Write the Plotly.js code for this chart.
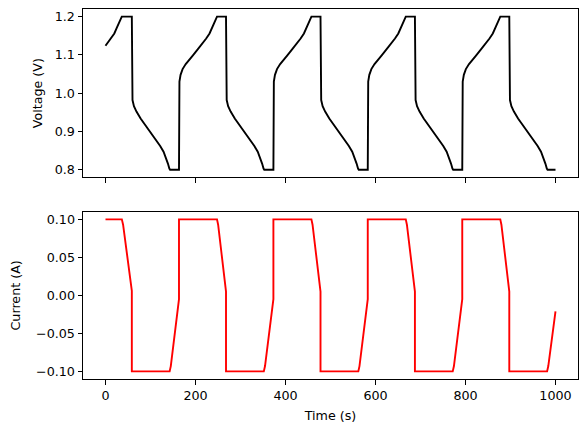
<!DOCTYPE html>
<html>
<head>
<meta charset="utf-8">
<script src="https://cdn.plot.ly/plotly-3.0.1.min.js"></script>
<style>html,body{margin:0;padding:0;background:#fff;}#chart{width:587px;height:432px;}</style>
</head>
<body>
<div id="chart"></div>
<script>
// Voltage trace (time in s, voltage in V)
const voltageTime = [
  0, 4.7, 12.2, 19.6, 25.5, 30.7, 34.4, 36.2,
  58.5, 58.5, 60.0, 63.2, 68.8, 78.0, 88.5, 99.5, 110.5, 121.5, 129.0, 135.0, 138.7, 141.9, 143.5,
  163.3, 163.3, 164.3, 166.8, 171.3, 178.3, 183.3, 194.3, 205.3, 216.3, 223.8, 231.2, 237.1, 242.3, 246.0, 247.8,
  267.8, 267.8, 269.3, 272.5, 278.1, 287.3, 297.8, 308.8, 319.8, 330.8, 338.3, 344.3, 348.0, 351.2, 352.8,
  373.1, 373.1, 374.1, 376.6, 381.1, 388.1, 393.1, 404.1, 415.1, 426.1, 433.6, 441.0, 446.9, 452.1, 455.8, 457.6,
  477.8, 477.8, 479.3, 482.5, 488.1, 497.3, 507.8, 518.8, 529.8, 540.8, 548.3, 554.3, 558.0, 561.2, 562.8,
  582.8, 582.8, 583.8, 586.3, 590.8, 597.8, 602.8, 613.8, 624.8, 635.8, 643.3, 650.7, 656.6, 661.8, 665.5, 667.3,
  687.6, 687.6, 689.1, 692.3, 697.9, 707.1, 717.6, 728.6, 739.6, 750.6, 758.1, 764.1, 767.8, 771.0, 772.6,
  792.8, 792.8, 793.8, 796.3, 800.8, 807.8, 812.8, 823.8, 834.8, 845.8, 853.3, 860.7, 866.6, 871.8, 875.5, 877.3,
  897.3, 897.3, 898.8, 902.0, 907.6, 916.8, 927.3, 938.3, 949.3, 960.3, 967.8, 973.8, 977.5, 980.7, 982.3,
  1000
];
const voltage = [
  1.124, 1.131, 1.143, 1.156, 1.172, 1.188, 1.198, 1.2,
  1.2, 1.004, 0.982, 0.966, 0.952, 0.934, 0.917, 0.899, 0.880, 0.862, 0.847, 0.830, 0.816, 0.803, 0.8,
  0.8, 1.008, 1.030, 1.048, 1.063, 1.076, 1.084, 1.099, 1.115, 1.131, 1.143, 1.156, 1.172, 1.188, 1.198, 1.2,
  1.2, 1.004, 0.982, 0.966, 0.952, 0.934, 0.917, 0.899, 0.880, 0.862, 0.847, 0.830, 0.816, 0.803, 0.8,
  0.8, 1.008, 1.030, 1.048, 1.063, 1.076, 1.084, 1.099, 1.115, 1.131, 1.143, 1.156, 1.172, 1.188, 1.198, 1.2,
  1.2, 1.004, 0.982, 0.966, 0.952, 0.934, 0.917, 0.899, 0.880, 0.862, 0.847, 0.830, 0.816, 0.803, 0.8,
  0.8, 1.008, 1.030, 1.048, 1.063, 1.076, 1.084, 1.099, 1.115, 1.131, 1.143, 1.156, 1.172, 1.188, 1.198, 1.2,
  1.2, 1.004, 0.982, 0.966, 0.952, 0.934, 0.917, 0.899, 0.880, 0.862, 0.847, 0.830, 0.816, 0.803, 0.8,
  0.8, 1.008, 1.030, 1.048, 1.063, 1.076, 1.084, 1.099, 1.115, 1.131, 1.143, 1.156, 1.172, 1.188, 1.198, 1.2,
  1.2, 1.004, 0.982, 0.966, 0.952, 0.934, 0.917, 0.899, 0.880, 0.862, 0.847, 0.830, 0.816, 0.803, 0.8,
  0.8
];

// Current trace (time in s, current in A)
const currentTime = [
  0, 36.3, 39.1, 41.9, 44.6, 47.4, 50.2, 53.0, 55.7, 58.5,
  58.5, 142.5, 145.1, 147.7, 150.3, 152.9, 155.5, 158.1, 160.7, 163.3,
  163.3, 247.8, 250.3, 252.8, 255.3, 257.8, 260.3, 262.8, 265.3, 267.8,
  267.8, 351.8, 354.5, 357.1, 359.8, 362.5, 365.1, 367.8, 370.4, 373.1,
  373.1, 457.6, 460.1, 462.7, 465.2, 467.7, 470.2, 472.8, 475.3, 477.8,
  477.8, 561.8, 564.4, 567.1, 569.7, 572.3, 574.9, 577.6, 580.2, 582.8,
  582.8, 667.3, 669.8, 672.4, 674.9, 677.5, 680.0, 682.5, 685.1, 687.6,
  687.6, 771.6, 774.3, 776.9, 779.6, 782.2, 784.9, 787.5, 790.2, 792.8,
  792.8, 877.3, 879.8, 882.3, 884.8, 887.3, 889.8, 892.3, 894.8, 897.3,
  897.3, 981.3, 984.0, 986.6, 989.2, 991.9, 994.5, 997.2, 1000
];
const current = [
  0.1, 0.1, 0.093, 0.081, 0.069, 0.057, 0.045, 0.032, 0.018, 0.006,
  -0.1, -0.1, -0.093, -0.081, -0.069, -0.057, -0.045, -0.032, -0.018, -0.005,
  0.1, 0.1, 0.093, 0.081, 0.069, 0.057, 0.045, 0.032, 0.018, 0.005,
  -0.1, -0.1, -0.093, -0.081, -0.069, -0.057, -0.045, -0.032, -0.018, -0.005,
  0.1, 0.1, 0.093, 0.081, 0.069, 0.057, 0.045, 0.032, 0.018, 0.005,
  -0.1, -0.1, -0.093, -0.081, -0.069, -0.057, -0.045, -0.032, -0.018, -0.005,
  0.1, 0.1, 0.093, 0.081, 0.069, 0.057, 0.045, 0.032, 0.018, 0.005,
  -0.1, -0.1, -0.093, -0.081, -0.069, -0.057, -0.045, -0.032, -0.018, -0.005,
  0.1, 0.1, 0.093, 0.081, 0.069, 0.057, 0.045, 0.032, 0.018, 0.005,
  -0.1, -0.1, -0.093, -0.081, -0.069, -0.057, -0.045, -0.033, -0.021
];

const timeTicks = [0, 200, 400, 600, 800, 1000];
const voltageTicks = [0.8, 0.9, 1.0, 1.1, 1.2];
const currentTicks = [-0.10, -0.05, 0.00, 0.05, 0.10];

const font = {family: 'DejaVu Sans, sans-serif', size: 12.7, color: '#000'};
const axisBase = {
  showline: true, linecolor: '#000', linewidth: 1, mirror: true,
  ticks: 'outside', ticklen: 4.5, tickwidth: 1, tickcolor: '#000',
  showgrid: false, zeroline: false, tickfont: font
};

const traces = [
  {x: voltageTime, y: voltage, xaxis: 'x', yaxis: 'y', type: 'scatter', mode: 'lines',
   line: {color: '#000000', width: 1.9}, hoverinfo: 'skip'},
  {x: currentTime, y: current, xaxis: 'x2', yaxis: 'y2', type: 'scatter', mode: 'lines',
   line: {color: '#ff0000', width: 1.9}, hoverinfo: 'skip'}
];

const layout = {
  width: 587, height: 432,
  margin: {l: 83, r: 9, t: 9, b: 53},
  paper_bgcolor: '#fff', plot_bgcolor: '#fff',
  showlegend: false, font: font,
  xaxis: Object.assign({}, axisBase, {
    domain: [0, 1], anchor: 'y', range: [-50, 1050],
    tickmode: 'array', tickvals: timeTicks, showticklabels: false
  }),
  yaxis: Object.assign({}, axisBase, {
    domain: [0.545, 1], anchor: 'x', range: [0.78, 1.22],
    tickmode: 'array', tickvals: voltageTicks, tickformat: '.1f',
    title: {text: 'Voltage (V)', font: font, standoff: 9}
  }),
  xaxis2: Object.assign({}, axisBase, {
    domain: [0, 1], anchor: 'y2', range: [-50, 1050],
    tickmode: 'array', tickvals: timeTicks,
    title: {text: 'Time (s)', font: font, standoff: 9}
  }),
  yaxis2: Object.assign({}, axisBase, {
    domain: [0, 0.452], anchor: 'x2', range: [-0.11, 0.11],
    tickmode: 'array', tickvals: currentTicks, tickformat: '.2f',
    title: {text: 'Current (A)', font: font, standoff: 12}
  })
};

Plotly.newPlot('chart', traces, layout, {staticPlot: true, displayModeBar: false});
</script>
</body>
</html>
